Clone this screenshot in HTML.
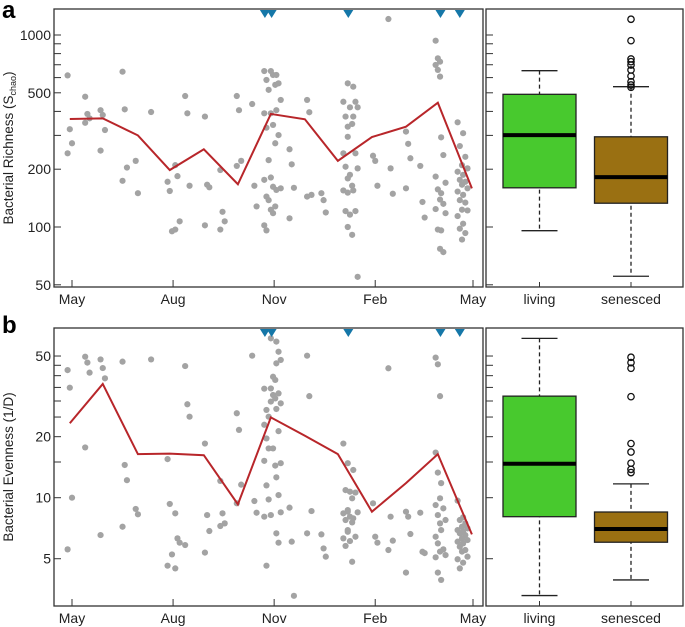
<!DOCTYPE html>
<html><head><meta charset="utf-8"><style>
html,body{margin:0;padding:0;background:#fff;}
svg{display:block;font-family:"Liberation Sans",sans-serif;}
</style></head><body>
<svg id="c" width="685" height="627" viewBox="0 0 685 627"></svg>
<script>
const monthLabels=["May","Aug","Nov","Feb","May"];
const monthDays=[0,92,184,276,365];
const richDates=[-2,14,28,48,60,74,89,96,105,123,137,152,166,177,183,188,200,216,229,249,253,258,276,290,306,319,333,338,353,358];
const richVals=[[616,323,273,242],[477,388,368,349],[406,383,320,250],[644,410,204,174],[221,150],[397],[172,154,95],[210,184,107,97],[481,391,164],[376,166,161,102],[198,120,107,97],[481,406,221,208],[437,164,128],
[649,583,518,391,329,223,176,144,138,102,96],[649,619,550,391,340,273,181,162,128,123,118],[619,560,459,406,301,159,156],[254,212,160,111],[459,396,147,144],[150,138,119],
[449,376,333,242,206,179,155,121,100],[560,420,344,295,187,164,151,116,91],[538,449,420,376,242,202,155,121,55],[235,221,164],[1211,202,149],[314,271,228,159],[208,135,112],
[934,756,726,698,658,607,183,157,139,124,97,77],[293,237,170,150,132,118,96,74],[351,264,210,194,176,166,153,138,123,114,98,86],[308,232,202,187,172,159,147,134,122,104,93]];
const evenVals=[[42.6,34.9,10,5.56],[49.6,46.4,41.4,17.7],[48.1,43.6,38.8,6.54],[46.9,14.5,12.2,7.19],[8.8,8.28],[48.1],[15.5,9.31,5.25,4.62],[8.37,6.3,6.0,4.48],[44.6,28.9,25.1,5.84],[18.5,8.21,6.85,5.36],[12.1,8.37,7.47,7.25],[26.1,21.6,11.6,9.38],[50.2,9.63,8.43],
[34.5,27.1,25.1,22.9,19.6,17.5,15.2,11.5,9.8,8.06,4.62],[61.1,39.5,38.1,34.6,32.1,30.9,29.8,17.5,14.4,8.21],[58.9,52.5,47.8,46.0,32.7,29.2,27.4,21.3,14.8,12.6,10.3,8.47,6.67,6.0],[8.93,6.07,3.28],[50.2,31.7,8.59,6.67],[6.59,5.62,5.12],
[18.5,10.9,8.69,8.37,7.76,6.92,6.3,5.78],[14.8,10.7,9.93,8.53,8.06,7.55,6.79,6.11,4.83],[13.7,10.6,8.47,7.91,6.42],[9.38,6.42,6.0],[43.5,8.06,6.14,5.52],[8.53,8.06,6.62,4.27],[8.43,5.41,5.33],
[49.1,45.5,31.7,16.7,13.3,9.93,9.2,8.21,7.47,6.42,5.95,5.42,5.08,4.27],[11.8,8.86,7.76,6.92,5.56,5.21,3.93],[9.67,7.76,7.19,6.92,6.67,6.3,6.07,5.73,5.42,4.97,4.48],[8.0,7.47,7.06,6.79,6.54,6.18,5.95,5.52,5.12,4.78]];
const meanDates=[-2,28,60,89,120,151,181,212,242,273,304,333,364];
const richMean=[365,368,300,198,254,167,388,364,221,294,333,444,159];
const evenMean=[23.3,36.4,16.4,16.5,16.2,9.27,24.9,20.2,16.4,8.53,11.8,16.4,6.59];
const markerDays=[175.6,181.7,251.5,335.4,353];
const boxCats=["living","senesced"];
const richBox=[[95.7,160,301,491,652],[55.4,133,182,295,538]];
const richOut=[[],[1208,934,750,726,698,657,611,571,549,534]];
const evenBox=[[3.29,8.06,14.7,31.7,61.1],[3.93,6.03,7.01,8.5,11.7]];
const evenOut=[[],[49.3,46.4,43.5,31.5,18.5,16.8,14.8,13.8,13.3]];
const richTicks=[50,100,200,300,400,500,600,700,800,900,1000];
const richLabels=[50,100,200,500,1000];
const evenTicks=[5,10,15,20,25,30,35,40,45,50];
const evenLabels=[5,10,20,50];

const svg=document.getElementById('c');
const NS='http://www.w3.org/2000/svg';
function mk(tag,attrs,parent){const e=document.createElementNS(NS,tag);for(const k in attrs)e.setAttribute(k,attrs[k]);(parent||svg).appendChild(e);return e;}
const xDay=d=>72+d*(473-72)/365;
const yRich=v=>35+(3-Math.log10(v))*192;
const yEven=v=>497.7-(Math.log10(v)-1)*202.7;
const boxX=[539.5,631];
const boxColors=["#48c92e","#9a7012"];

function panel(name,y0,y1,yf,ticks,labels,dates,vals,mean,box,outs,title,letter,ly){
  const g=mk('g',{});
  
  
  const t=mk('text',{x:2,y:ly,'font-size':24,'font-weight':'bold'},g);t.textContent=letter;
  
  // main frame
  const f=mk('rect',{x:54,y:y0,width:429,height:y1-y0,fill:'none',stroke:'#333','stroke-width':1.3},g);
  
  const f2=mk('rect',{x:486,y:y0,width:197,height:y1-y0,fill:'none',stroke:'#333','stroke-width':1.3},g);
  
  ticks.forEach(v=>{const y=yf(v);
    const a=mk('line',{x1:54,x2:61,y1:y,y2:y,stroke:'#333','stroke-width':1},g);
    
    const b=mk('line',{x1:486,x2:493,y1:y,y2:y,stroke:'#333','stroke-width':1},g);
    });
  labels.forEach(v=>{const l=mk('text',{x:51,y:yf(v)+5,'font-size':14,'text-anchor':'end',fill:'#222'},g);l.textContent=v;
    });
  monthDays.forEach((d,i)=>{const x=xDay(d);
    const a=mk('line',{x1:x,x2:x,y1:y1,y2:y1-7,stroke:'#333','stroke-width':1},g);
    
    const l=mk('text',{x:x,y:y1+17,'font-size':14,'text-anchor':'middle',fill:'#222'},g);l.textContent=monthLabels[i];
    });
  const tt=mk('text',{x:0,y:0,'font-size':13.5,'text-anchor':'middle',fill:'#222',transform:`translate(13,${(y0+y1)/2}) rotate(-90)`},g);
  tt.innerHTML=title;
  dates.forEach((d,i)=>{vals[i].forEach((v,j)=>{
    const jit=((j%3)-1)*2.2;
    const c=mk('circle',{cx:xDay(d)+jit,cy:yf(v),r:3.1,fill:'#a3a3a3'},g);
    });});
  const pl=mk('polyline',{points:meanDates.map((d,i)=>xDay(d)+','+yf(mean[i])).join(' '),fill:'none',stroke:'#b8262a','stroke-width':2},g);
  
  markerDays.forEach(d=>{const x=xDay(d);
    const p=mk('polygon',{points:`${x-5},${y0+1} ${x+5},${y0+1} ${x},${y0+9}`,fill:'#1577a8'},g);
    });
  box.forEach((b,i)=>{const cx=boxX[i],hw=36.5,cw=18;
    const w=mk('line',{x1:cx,x2:cx,y1:yf(b[4]),y2:yf(b[0]),stroke:'#222','stroke-width':1.3,'stroke-dasharray':'4,3'},g);
    
    [b[0],b[4]].forEach(v=>{const c=mk('line',{x1:cx-cw,x2:cx+cw,y1:yf(v),y2:yf(v),stroke:'#222','stroke-width':1.3},g);
      });
    const r=mk('rect',{x:cx-hw,y:yf(b[3]),width:hw*2,height:yf(b[1])-yf(b[3]),fill:boxColors[i],stroke:'#222','stroke-width':1.3},g);
    
    const m=mk('line',{x1:cx-hw,x2:cx+hw,y1:yf(b[2]),y2:yf(b[2]),stroke:'#000','stroke-width':4},g);
    
    outs[i].forEach(v=>{const o=mk('circle',{cx:cx,cy:yf(v),r:3.2,fill:'none',stroke:'#111','stroke-width':1.3},g);
      });
    const tk=mk('line',{x1:cx,x2:cx,y1:y1,y2:y1-5,stroke:'#333','stroke-width':1},g);
    
    const l=mk('text',{x:cx,y:y1+17,'font-size':14,'text-anchor':'middle',fill:'#222'},g);l.textContent=boxCats[i];
    });
}
panel('richness',9,287,yRich,richTicks,richLabels,richDates,richVals,richMean,richBox,richOut,'Bacterial Richness (S<tspan font-size="9" dy="3">chao</tspan><tspan dy="-3">)</tspan>','a',18);
panel('evenness',328,606,yEven,evenTicks,evenLabels,richDates,evenVals,evenMean,evenBox,evenOut,'Bacterial Evenness (1/D)','b',333);
</script>
</body></html>
